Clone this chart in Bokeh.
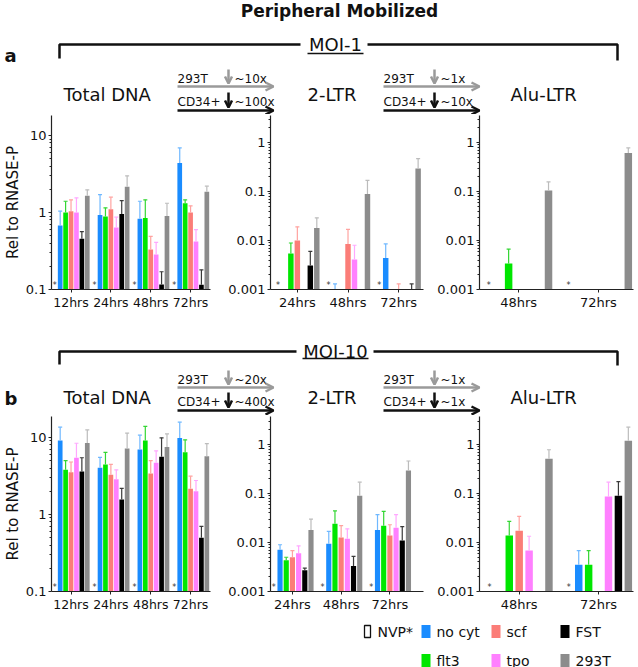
import numpy as np
from bokeh.plotting import figure
from bokeh.layouts import column, row
from bokeh.models import Range1d, ColumnDataSource, FixedTicker, CustomJSTickFormatter, Arrow, OpenHead
from bokeh.transform import dodge
from bokeh.core.properties import value
from bokeh.embed import file_html
from bokeh.resources import INLINE

FONT = "DejaVu Sans"

# ---------------- data ----------------
series = ["no cyt", "flt3", "scf", "tpo", "FST", "293T"]
bar_colors = ["#1a8cff", "#00e600", "#fb7d78", "#ff80ff", "#000000", "#8c8c8c"]
err_colors = ["#6fb8ff", "#33d633", "#ffa3a0", "#ffa8ff", "#3a3a3a", "#bcbcbc"]
control_label = "NVP*"

hours_total = ["12hrs", "24hrs", "48hrs", "72hrs"]
hours_ltr = ["24hrs", "48hrs", "72hrs"]
hours_alu = ["48hrs", "72hrs"]

ticks_total = [0.1, 1, 10]
ticks_ltr = [0.001, 0.01, 0.1, 1]

N = None
# rows follow `series`, columns follow the hours of the panel
a_total_val = [[0.68, 0.93, 0.83, 4.4],
               [1.0, 0.89, 0.85, 1.32],
               [1.04, 1.1, 0.33, 1.0],
               [1.0, 0.64, 0.285, 0.42],
               [0.455, 0.96, 0.116, 0.115],
               [1.65, 2.16, 0.9, 1.86]]
a_total_err = [[1.04, 1.71, 1.40, 6.9],
               [1.40, 1.15, 1.46, 1.46],
               [1.46, 1.58, 0.49, 1.22],
               [1.55, 0.87, 0.41, 0.60],
               [0.566, 1.43, 0.17, 0.18],
               [1.97, 3.0, 1.32, 2.2]]

a_ltr_val = [[N, 0.001, 0.0044],
             [0.0054, N, N],
             [0.01, 0.0085, 0.001],
             [N, 0.0041, N],
             [0.0031, N, 0.001],
             [0.018, 0.089, 0.294]]
a_ltr_err = [[N, 0.0013, 0.0085],
             [0.0089, N, N],
             [0.019, 0.0168, 0.0013],
             [N, 0.008, N],
             [0.006, N, 0.0013],
             [0.029, 0.168, 0.47]]

a_alu_val = [[N, N], [0.0034, N], [N, N], [N, N], [N, N], [0.105, 0.614]]
a_alu_err = [[N, N], [0.0067, N], [N, N], [N, N], [N, N], [0.157, 0.776]]

b_total_val = [[9.1, 4.04, 6.98, 9.8],
               [3.8, 4.46, 9.1, 6.4],
               [3.54, 3.27, 3.4, 2.16],
               [5.45, 2.87, 4.7, 2.0],
               [3.6, 1.57, 5.6, 0.50],
               [8.5, 7.2, 7.5, 5.7]]
b_total_err = [[13.6, 5.5, 10.7, 15.8],
               [5.0, 6.4, 13.9, 9.3],
               [4.8, 4.46, 5.0, 3.14],
               [8.4, 3.8, 6.7, 2.76],
               [5.45, 2.18, 9.9, 0.70],
               [12.5, 11.4, 11.1, 8.3]]

b_ltr_val = [[0.0071, 0.0094, 0.018],
             [0.00435, 0.024, 0.022],
             [0.005, 0.0126, 0.0139],
             [0.006, 0.0119, 0.020],
             [0.0027, 0.0033, 0.011],
             [0.018, 0.09, 0.294]]
b_ltr_err = [[0.009, 0.0168, 0.037],
             [0.005, 0.044, 0.043],
             [0.0068, 0.022, 0.023],
             [0.0085, 0.019, 0.037],
             [0.003, 0.0052, 0.021],
             [0.03, 0.17, 0.46]]

b_alu_val = [[N, 0.0035], [0.0139, 0.0035], [0.0173, N], [0.0069, 0.087], [N, 0.09], [0.51, 1.19]]
b_alu_err = [[N, 0.0068], [0.027, 0.0068], [0.034, N], [0.0134, 0.17], [N, 0.175], [0.78, 2.25]]


def nanlist(lst):
    return [np.nan if x is None else float(x) for x in lst]


def panel(width, height, xr, ylo, yhi, hours, vals, errs, slot, bw, ticks,
          mb_left, mb_right, mb_bottom, xlabel_size="13px", ylabel=None):
    p = figure(width=width, height=height, x_range=Range1d(*xr), y_range=Range1d(ylo, yhi),
               y_axis_type="log", output_backend="svg", toolbar_location=None,
               min_border_left=mb_left, min_border_right=mb_right,
               min_border_top=1, min_border_bottom=mb_bottom)
    p.outline_line_color = None
    p.grid.visible = False
    gi = list(range(len(hours)))
    for si, name in enumerate(series):
        src = ColumnDataSource(dict(g=gi, v=nanlist(vals[si]), e=nanlist(errs[si])))
        xs = dodge("g", (si - 2) * slot)
        p.vbar(x=xs, bottom=ylo, top="v", width=bw, source=src,
               fill_color=bar_colors[si], line_color=None)
        p.segment(x0=xs, y0="v", x1=xs, y1="e", source=src,
                  line_color=err_colors[si], line_width=1.2)
        p.scatter(x=xs, y="e", source=src, marker="dash", size=4,
                  line_color=err_colors[si], line_width=1.2)
    star = ColumnDataSource(dict(g=gi, y=[ylo] * len(gi), t=["*"] * len(gi)))
    p.text(x=dodge("g", -3 * slot), y="y", text="t", source=star,
           text_font=value(FONT), text_font_size="8px", text_align="center",
           text_baseline="bottom", text_color="#333333")

    xa = p.xaxis[0]
    xa.ticker = FixedTicker(ticks=gi)
    xa.major_label_overrides = {i: h for i, h in enumerate(hours)}
    ya = p.yaxis[0]
    minor = [m * 10.0 ** k for k in range(-4, 3) for m in range(2, 10)]
    ya.ticker = FixedTicker(ticks=ticks, minor_ticks=minor)
    ya.formatter = CustomJSTickFormatter(code="return tick.toString();")
    for ax in p.axis:
        ax.axis_line_color = "#222222"
        ax.axis_line_width = 1.2
        ax.major_tick_line_color = "#222222"
        ax.major_tick_out = 3
        ax.major_tick_in = 0
        ax.minor_tick_line_color = "#222222"
        ax.minor_tick_out = 2
        ax.minor_tick_in = 0
        ax.major_label_text_font = FONT
        ax.major_label_text_font_size = "13px"
        ax.major_label_text_color = "#111111"
        ax.major_label_standoff = 2
    xa.major_label_text_font_size = xlabel_size
    if ylabel:
        ya.axis_label = ylabel
        ya.axis_label_text_font = FONT
        ya.axis_label_text_font_style = "normal"
        ya.axis_label_text_font_size = "15px"
        ya.axis_label_text_color = "#111111"
        ya.axis_label_standoff = 1
    return p


def canvas(width, height):
    p = figure(width=width, height=height, x_range=Range1d(0, width), y_range=Range1d(height, 0),
               output_backend="svg", toolbar_location=None, min_border=0,
               x_axis_location=None, y_axis_location=None)
    p.grid.visible = False
    p.outline_line_color = None
    return p


def txt(p, x, y, s, size, bold=False, align="left", color="#111111"):
    p.text(x=[x], y=[y], text=[s], text_font=value(FONT), text_font_size=size,
           text_font_style="bold" if bold else "normal", text_align=align,
           text_baseline="middle", text_color=color)


def arrow(p, x0, y0, x1, y1, color, size=8):
    p.add_layout(Arrow(x_start=x0, y_start=y0, x_end=x1, y_end=y1, line_color=color, line_width=2.5,
                       end=OpenHead(line_color=color, line_width=2.5, size=size)))


def header(height, panel_letter, moi, folds, ytitle, yb, y293, yarrow_g, ycd, yarrow_b,
           down_g, down_b, ylet, left_end, right_start, bracket_y, left_drop, right_drop,
           underline_y, ug):
    p = canvas(638, height)
    if ytitle is not None:
        txt(p, 339, ytitle, "Peripheral Mobilized", "17px", bold=True, align="center")
    p.multi_line(xs=[[59, 59, left_end], [right_start, 617, 617]],
                 ys=[[left_drop, bracket_y, bracket_y], [bracket_y, bracket_y, right_drop]],
                 line_color="#111111", line_width=2.5)
    txt(p, 335, bracket_y, moi, "18px", align="center")
    p.segment(x0=[335 - ug], y0=[underline_y], x1=[335 + ug], y1=[underline_y],
              line_color="#111111", line_width=1.3)
    txt(p, 4, ylet, panel_letter, "18px", bold=True)
    txt(p, 63, yb, "Total DNA", "18px")
    txt(p, 307, yb, "2-LTR", "18px")
    txt(p, 510, yb, "Alu-LTR", "18px")
    for x0, (f293, fcd) in zip([177, 383], folds):
        txt(p, x0, y293, "293T", "12px")
        txt(p, x0 + 57, y293, f293, "12px")
        arrow(p, x0 + 51, down_g[0], x0 + 51, down_g[1], "#9a9a9a", size=7)
        arrow(p, x0, yarrow_g, x0 + 96, yarrow_g, "#9a9a9a")
        txt(p, x0, ycd, "CD34+", "12px")
        txt(p, x0 + 57, ycd, fcd, "12px")
        arrow(p, x0 + 51, down_b[0], x0 + 51, down_b[1], "#111111", size=7)
        arrow(p, x0, yarrow_b, x0 + 96, yarrow_b, "#111111")
    return p


head_a = header(114, "a", "MOI-1", [("~10x", "~100x"), ("~1x", "~10x")], ytitle=10,
                yb=94, y293=78, yarrow_g=86, ycd=101, yarrow_b=110,
                down_g=(69, 83), down_b=(92, 107), ylet=55,
                left_end=300, right_start=367, bracket_y=44, left_drop=58, right_drop=60,
                underline_y=53, ug=28)
head_b = header(101, "b", "MOI-10", [("~20x", "~400x"), ("~1x", "~1x")], ytitle=None,
                yb=83, y293=65, yarrow_g=73, ycd=87, yarrow_b=96,
                down_g=(56, 70), down_b=(78, 93), ylet=83.5,
                left_end=296, right_start=373, bracket_y=37, left_drop=50, right_drop=51,
                underline_y=44, ug=33)

a1 = panel(222, 200, (-0.49, 3.5), 0.1, 18.2, hours_total, a_total_val, a_total_err, 0.136, 0.118,
           ticks_total, 48, 12, 25, xlabel_size="12.5px", ylabel="Rel to RNASE-P")
a2 = panel(209, 200, (-0.53, 2.49), 0.001, 3.56, hours_ltr, a_ltr_val, a_ltr_err, 0.128, 0.108,
           ticks_ltr, 48, 8, 25)
a3 = panel(207, 200, (-0.49, 1.44), 0.001, 3.56, hours_alu, a_alu_val, a_alu_err, 0.125, 0.094,
           ticks_ltr, 48, 5, 25)
b1 = panel(222, 200, (-0.49, 3.5), 0.1, 18.7, hours_total, b_total_val, b_total_err, 0.136, 0.118,
           ticks_total, 48, 12, 24, xlabel_size="12.5px", ylabel="Rel to RNASE-P")
b2 = panel(209, 200, (-0.45, 2.69), 0.001, 3.72, hours_ltr, b_ltr_val, b_ltr_err, 0.127, 0.106,
           ticks_ltr, 48, 8, 24)
b3 = panel(207, 200, (-0.5, 1.44), 0.001, 3.72, hours_alu, b_alu_val, b_alu_err, 0.125, 0.094,
           ticks_ltr, 48, 5, 24)

# legend
leg = canvas(638, 52)
row_y = [16, 45]
col_x = [425.5, 495.5, 564.5]
leg.rect(x=[367], y=[row_y[0]], width=6, height=12, fill_color=None, line_color="#111111", line_width=1.3)
txt(leg, 377, row_y[0], control_label, "14px")
for si, name in enumerate(series):
    cx = col_x[si // 2]
    cy = row_y[si % 2]
    leg.rect(x=[cx], y=[cy], width=9, height=13, fill_color=bar_colors[si], line_color=None)
    txt(leg, cx + 10.5, cy, name, "14px")

layout = column(head_a, row(a1, a2, a3), head_b, row(b1, b2, b3), leg)

open("out.html", "w").write(file_html(layout, INLINE))
